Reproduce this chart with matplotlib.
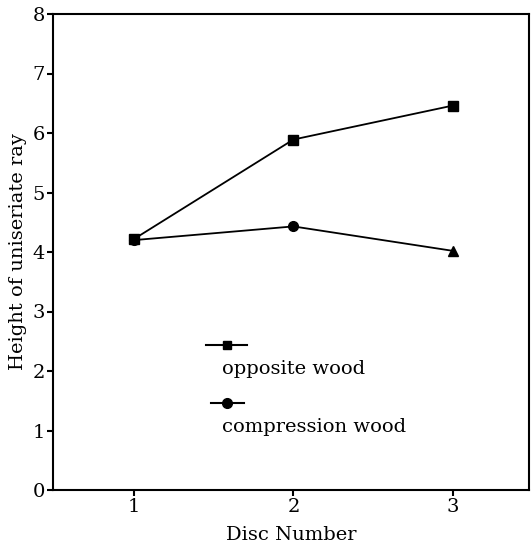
import matplotlib
matplotlib.use("Agg")
import matplotlib.pyplot as plt

discs = [1, 2, 3]
opposite = [4.22, 5.89, 6.46]
compression = [4.20, 4.43, 4.02]
comp_markers = ["o", "o", "^"]
yticks = [0, 1, 2, 3, 4, 5, 6, 7, 8]
xticks = [1, 2, 3]

plt.rcParams['font.family'] = ['DejaVu Serif']
fig = plt.figure(figsize=(5.32, 5.51), dpi=100)
ax = fig.add_axes([53/532, 61/551, 476/532, 476/551])

ax.plot(discs, opposite, color="black", lw=1.3, marker="s", ms=6.5)
ax.plot(discs, compression, color="black", lw=1.3)
for x, y, m in zip(discs, compression, comp_markers):
    ax.plot([x], [y], color="black", marker=m, ms=7, ls="none")

# legend drawn manually
ax.plot([1.45, 1.71], [2.43, 2.43], color="black", lw=1.5)
ax.plot([1.58], [2.43], color="black", marker="s", ms=6)
ax.text(1.55, 2.04, "opposite wood", fontsize=14, va="center", ha="left")
ax.plot([1.48, 1.69], [1.46, 1.46], color="black", lw=1.5)
ax.plot([1.58], [1.46], color="black", marker="o", ms=7)
ax.text(1.55, 1.06, "compression wood", fontsize=14, va="center", ha="left")

ax.set_xlim(0.49, 3.48)
ax.set_ylim(0, 8)
ax.set_xticks(xticks)
ax.set_yticks(yticks)
ax.tick_params(labelsize=14, direction="out", length=4, width=1.5, pad=2)
for s in ax.spines.values():
    s.set_linewidth(1.5)
ax.set_xlabel("Disc Number", fontsize=14, labelpad=7)
ax.set_ylabel("Height of uniseriate ray", fontsize=14, labelpad=4)

fig.savefig("out.png", dpi=100)
